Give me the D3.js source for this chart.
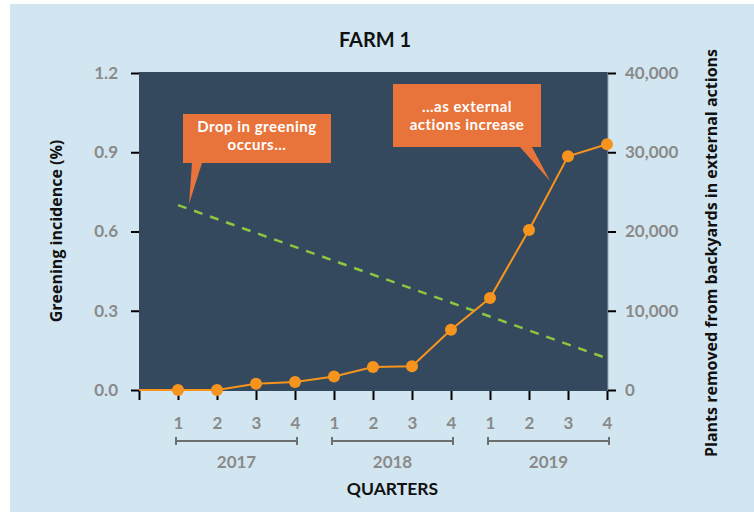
<!DOCTYPE html>
<html>
<head>
<meta charset="utf-8">
<script src="https://cdn.jsdelivr.net/npm/d3@7"></script>
<style>
  body { margin: 0; background: #fff; }
  text { font-family: Lato, sans-serif; font-weight: 700; }
</style>
</head>
<body>
<svg width="754" height="512"></svg>
<script>
// quarters 2017 - 2019
const quarters = ["1", "2", "3", "4", "1", "2", "3", "4", "1", "2", "3", "4"]
const years = ["2017", "2018", "2019"]

// plants removed from backyards (right axis)
const plantsRemoved = [0, 0, 800, 1000, 1700, 2900, 3000, 7600, 11600, 20200, 29500, 31000]

// greening incidence trend, Q1 2017 -> Q4 2019 (left axis)
const greeningTrend = [0.70, 0.12]

const leftTicks = [0, 0.3, 0.6, 0.9, 1.2]
const rightTicks = [0, 10000, 20000, 30000, 40000]

const svg = d3.select("svg")

const x = d3.scaleLinear().domain([0, 12]).range([139, 607])
const yLeft = d3.scaleLinear().domain([0, 1.2]).range([390, 73])
const yRight = d3.scaleLinear().domain([0, 40000]).range([390, 73])

// backgrounds
svg.append("rect")
    .attr("x", 10).attr("y", 4)
    .attr("width", 744).attr("height", 508)
    .attr("fill", "#d2e6f1")

svg.append("rect")
    .attr("x", 139).attr("y", 72)
    .attr("width", 469).attr("height", 319)
    .attr("fill", "#34495e")

svg.append("line")
    .attr("x1", 608).attr("x2", 608)
    .attr("y1", 72).attr("y2", 391)
    .attr("stroke", "#9aa3ab")
    .attr("stroke-width", 1)

// title
svg.append("text")
    .attr("x", 375).attr("y", 47)
    .attr("text-anchor", "middle")
    .attr("font-size", 20)
    .attr("fill", "#111")
    .text("FARM 1")

// axes
const styleAxis = g => {
    g.select(".domain").remove()
    g.selectAll(".tick line").attr("stroke", "#000").attr("stroke-width", 2)
    g.selectAll(".tick text")
        .attr("fill", "#8a8a8a")
        .style("font-family", "Lato, sans-serif")
        .style("font-weight", 700)
        .attr("font-size", 17)
}

svg.append("g")
    .attr("transform", "translate(139,0)")
    .call(d3.axisLeft(yLeft).tickValues(leftTicks).tickSize(8).tickPadding(13).tickFormat(d3.format(".1f")))
    .call(styleAxis)

svg.append("g")
    .attr("transform", "translate(608,0)")
    .call(d3.axisRight(yRight).tickValues(rightTicks).tickSize(8).tickPadding(9).tickFormat(d3.format(",")))
    .call(styleAxis)

svg.append("g")
    .attr("transform", "translate(0,391)")
    .call(d3.axisBottom(x).tickValues(d3.range(0, 13)).tickSize(9).tickPadding(17)
        .tickFormat(i => i ? quarters[i - 1] : ""))
    .call(styleAxis)

// year brackets
years.forEach((yr, k) => {
    const x0 = x(1 + 4 * k) - 2
    const x1 = x(4 + 4 * k) + 2
    const g = svg.append("g").attr("stroke", "#6d6e70").attr("stroke-width", 2)
    g.append("line").attr("x1", x0).attr("x2", x1).attr("y1", 441).attr("y2", 441)
    g.append("line").attr("x1", x0).attr("x2", x0).attr("y1", 437).attr("y2", 445)
    g.append("line").attr("x1", x1).attr("x2", x1).attr("y1", 437).attr("y2", 445)
    svg.append("text")
        .attr("x", (x0 + x1) / 2).attr("y", 468)
        .attr("text-anchor", "middle")
        .attr("font-size", 17)
        .attr("fill", "#8a8a8a")
        .text(yr)
})

svg.append("text")
    .attr("x", (x(5) + x(8)) / 2).attr("y", 495)
    .attr("text-anchor", "middle")
    .attr("font-size", 17.5)
    .attr("fill", "#111")
    .text("QUARTERS")

// axis titles
svg.append("text")
    .attr("transform", "translate(62,231) rotate(-90)")
    .attr("text-anchor", "middle")
    .style("font-family", "'Open Sans', sans-serif")
    .attr("font-size", 16)
    .attr("fill", "#111")
    .text("Greening incidence (%)")

svg.append("text")
    .attr("transform", "translate(717,253) rotate(-90)")
    .attr("text-anchor", "middle")
    .style("font-family", "'Open Sans', sans-serif")
    .attr("font-size", 16)
    .attr("fill", "#111")
    .text("Plants removed from backyards in external actions")

// greening trend (dashed)
svg.append("line")
    .attr("x1", x(1)).attr("y1", yLeft(greeningTrend[0]))
    .attr("x2", x(12)).attr("y2", yLeft(greeningTrend[1]))
    .attr("stroke", "#8dc63f")
    .attr("stroke-width", 2.5)
    .attr("stroke-dasharray", "9,8")

// plants removed line + points
const lineData = [[0, 0]].concat(plantsRemoved.map((v, i) => [i + 1, v]))

svg.append("path")
    .datum(lineData)
    .attr("fill", "none")
    .attr("stroke", "#f7941d")
    .attr("stroke-width", 2)
    .attr("d", d3.line().x(d => x(d[0])).y(d => yRight(d[1])))

svg.selectAll("circle")
    .data(plantsRemoved)
    .enter()
    .append("circle")
    .attr("cx", (d, i) => x(i + 1))
    .attr("cy", d => yRight(d))
    .attr("r", 6)
    .attr("fill", "#f7941d")

// callouts
const callouts = [
    { box: [183, 114, 148, 49], tail: [[192, 163], [202, 163], [189, 204]], lines: ["Drop in greening", "occurs..."], y0: 132 },
    { box: [393, 84, 148, 63], tail: [[520, 147], [532, 147], [550, 181]], lines: ["...as external", "actions increase"], y0: 112 }
]

callouts.forEach(c => {
    const g = svg.append("g")
    g.append("rect")
        .attr("x", c.box[0]).attr("y", c.box[1])
        .attr("width", c.box[2]).attr("height", c.box[3])
        .attr("fill", "#e8743b")
    g.append("polygon")
        .attr("points", c.tail.map(p => p.join(",")).join(" "))
        .attr("fill", "#e8743b")
    c.lines.forEach((t, i) => {
        g.append("text")
            .attr("x", c.box[0] + c.box[2] / 2)
            .attr("y", c.y0 + i * 18)
            .attr("text-anchor", "middle")
            .attr("font-size", 15)
            .attr("letter-spacing", 0.5)
            .attr("fill", "#fff")
            .text(t)
    })
})
</script>
</body>
</html>
